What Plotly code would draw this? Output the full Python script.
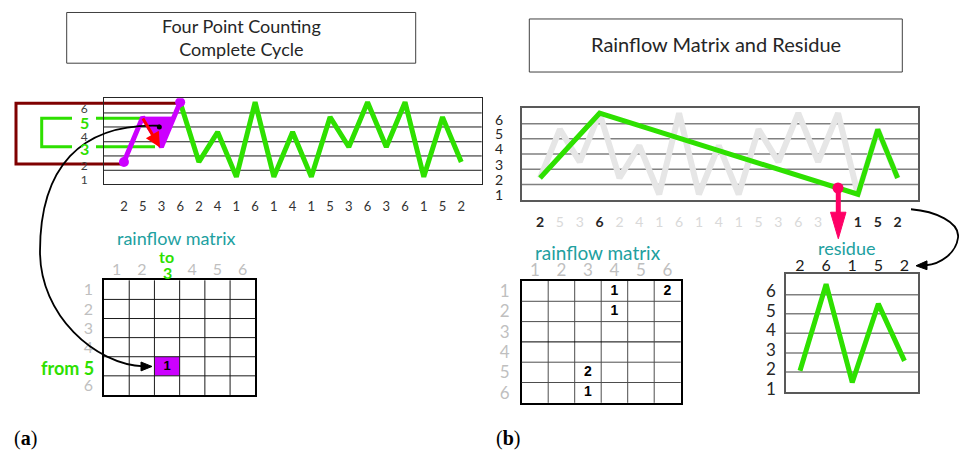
import plotly.graph_objects as go

# ---------------- data ----------------
signal = [2, 5, 3, 6, 2, 4, 1, 6, 1, 4, 1, 5, 3, 6, 3, 6, 1, 5, 2]
levels = [1, 2, 3, 4, 5, 6]
cycle_idx = [0, 1, 2, 3]            # four points used for counting
cycle_from, cycle_to, cycle_count = 5, 3, 1
residue_idx = [0, 3, 16, 17, 18]    # points left after counting
residue_labels = [2, 6, 1, 5, 2]
residue_values = [1.6, 6.0, 1.0, 5.0, 2.1]
cut_idx = 15                        # position of the pink marker
rf_from = [1, 1, 2, 5, 6]
rf_to = [4, 6, 4, 3, 3]
rf_count = [1, 2, 1, 2, 1]

# ---------------- styles ----------------
W, H = 959, 455
GREEN = '#2ee000'
PURPLE = '#cc00ff'
TEAL = '#21a0a0'
PINK = '#ff0066'
LGREY = '#bfbfbf'
FONT = 'Lato'

def dx(a, b):
    return [a / W, b / W]

def dy(top, bottom):
    return [1 - bottom / H, 1 - top / H]

fig = go.Figure()

# ---------- left chart (x2/y2) ----------
fig.add_trace(go.Scatter(x=list(range(len(signal)))[3:], y=signal[3:], mode='lines',
                         line=dict(color=GREEN, width=5), xaxis='x2', yaxis='y2'))
v1, v2, v3 = signal[cycle_idx[1]], signal[cycle_idx[2]], signal[cycle_idx[3]]
xc = cycle_idx[2] + (v1 - v2) / (v3 - v2)
fig.add_trace(go.Scatter(x=[cycle_idx[1], cycle_idx[2], xc, cycle_idx[1]], y=[v1, v2, v1, v1],
                         mode='lines', fill='toself', fillcolor=PURPLE,
                         line=dict(color=PURPLE, width=1), xaxis='x2', yaxis='y2'))
fig.add_trace(go.Scatter(x=cycle_idx, y=[signal[i] for i in cycle_idx], mode='lines',
                         line=dict(color=PURPLE, width=5), xaxis='x2', yaxis='y2'))
fig.add_trace(go.Scatter(x=[cycle_idx[0], cycle_idx[-1]], y=[signal[cycle_idx[0]], signal[cycle_idx[-1]]],
                         mode='markers', marker=dict(color=PURPLE, size=10), xaxis='x2', yaxis='y2'))
cx = (cycle_idx[1] + cycle_idx[2] + xc) / 3
cy = (v1 + v2 + v1) / 3
fig.add_trace(go.Scatter(x=[cx], y=[cy], mode='markers', marker=dict(color='black', size=5),
                         xaxis='x2', yaxis='y2'))

# ---------- right chart (x3/y3) ----------
fig.add_trace(go.Scatter(x=list(range(len(signal))), y=signal, mode='lines',
                         line=dict(color='#e6e6e6', width=6), xaxis='x3', yaxis='y3'))
fig.add_trace(go.Scatter(x=residue_idx, y=[signal[i] for i in residue_idx], mode='lines',
                         line=dict(color=GREEN, width=5), xaxis='x3', yaxis='y3'))
a, b = residue_idx[1], residue_idx[2]
cut_val = signal[a] + (signal[b] - signal[a]) * (cut_idx - a) / (b - a)
fig.add_trace(go.Scatter(x=[cut_idx], y=[cut_val], mode='markers',
                         marker=dict(color=PINK, size=11), xaxis='x3', yaxis='y3'))

# ---------- residue chart (x4/y4) ----------
fig.add_trace(go.Scatter(x=list(range(len(residue_values))), y=residue_values, mode='lines',
                         line=dict(color=GREEN, width=5), xaxis='x4', yaxis='y4'))

# ---------- matrices (x5/y5 left, x6/y6 right) ----------
fig.add_trace(go.Scatter(x=[cycle_to], y=[cycle_from], mode='text', text=[f'<b>{cycle_count}</b>'],
                         textfont=dict(family='Liberation Sans', size=13, color='black'),
                         xaxis='x5', yaxis='y5'))
fig.add_trace(go.Scatter(x=rf_to, y=rf_from, mode='text', text=[f'<b>{c}</b>' for c in rf_count],
                         textfont=dict(family='Liberation Sans', size=14, color='black'),
                         xaxis='x6', yaxis='y6'))

shapes = []
annos = []

for g in [1.44, 2.4, 3.35, 4.34, 5.28]:
    shapes.append(dict(type='line', xref='x2 domain', yref='y2', x0=0, x1=1, y0=g, y1=g,
                       line=dict(color='#1a1a1a', width=1), layer='below'))
for g in [1.606, 2.539, 3.485, 4.418, 5.345]:
    shapes.append(dict(type='line', xref='x3 domain', yref='y3', x0=0, x1=1, y0=g, y1=g,
                       line=dict(color='#808080', width=1.5), layer='below'))
for g in [1.53, 2.5, 3.5, 4.5, 5.465]:
    shapes.append(dict(type='line', xref='x4 domain', yref='y4', x0=0, x1=1, y0=g, y1=g,
                       line=dict(color='#808080', width=1.5), layer='below'))
shapes.append(dict(type='rect', xref='x5', yref='y5', x0=cycle_to - 0.5, x1=cycle_to + 0.5,
                   y0=cycle_from - 0.5, y1=cycle_from + 0.5, fillcolor=PURPLE,
                   line=dict(width=0), layer='below'))
for ax, col in [('5', '#1a1a1a'), ('6', '#4d4d4d')]:
    for k in range(1, 6):
        g = k + 0.5
        shapes.append(dict(type='line', xref=f'x{ax}', yref=f'y{ax} domain', x0=g, x1=g, y0=0, y1=1,
                           line=dict(color=col, width=1)))
        shapes.append(dict(type='line', xref=f'x{ax} domain', yref=f'y{ax}', x0=0, x1=1, y0=g, y1=g,
                           line=dict(color=col if not (ax == '6' and k == 3) else 'black', width=1)))

def px_line(path, color, width, layer='below'):
    shapes.append(dict(type='path', xref='x', yref='y', path=path,
                       line=dict(color=color, width=width), layer=layer))

shapes.append(dict(type='rect', xref='x', yref='y', x0=66.7, x1=415.7, y0=11.7, y1=63.3,
                   line=dict(color='#404040', width=1)))
shapes.append(dict(type='rect', xref='x', yref='y', x0=529.3, x1=902.3, y0=18.3, y1=72.3,
                   line=dict(color='#404040', width=1)))
annos.append(dict(x=241, y=37.5, xref='x', yref='y', text='Four Point Counting<br>Complete Cycle',
                  showarrow=False, font=dict(family=FONT, size=18, color='#262626')))
annos.append(dict(x=715.8, y=44, xref='x', yref='y', text='Rainflow Matrix and Residue',
                  showarrow=False, font=dict(family=FONT, size=20, color='#262626')))

px_line('M 180 104 L 16 104 L 16 166 L 124 166', '#7f0000', 3)
px_line('M 72 119.3 L 41.7 119.3 L 41.7 148.3 L 72 148.3', GREEN, 3)
px_line('M 96 119.3 L 140 119.3', GREEN, 3)
px_line('M 96 148.3 L 155 148.3', GREEN, 3)
annos.append(dict(x=84, y=124, xref='x', yref='y', text=f'<b>{cycle_from}</b>', showarrow=False,
                  font=dict(family=FONT, size=16, color=GREEN)))
annos.append(dict(x=84, y=150, xref='x', yref='y', text=f'<b>{cycle_to}</b>', showarrow=False,
                  font=dict(family=FONT, size=16, color=GREEN)))

annos.append(dict(x=160, y=149, ax=142, ay=118, xref='x', yref='y', axref='x', ayref='y', text='',
                  showarrow=True, arrowhead=2, arrowsize=1, arrowwidth=3, arrowcolor='#ff0000'))

px_line('M 160 127 C 80 124, 40 170, 40 255 C 40 320, 95 370, 144 372', 'black', 1.8, 'above')
shapes.append(dict(type='path', xref='x', yref='y', path='M 141 367.5 L 152 372 L 141 376.5 Z',
                   fillcolor='black', line=dict(color='black', width=1), layer='above'))
px_line('M 911 212 C 935 214, 960 225, 958 241 C 956 257, 940 268, 926 269', 'black', 1.8, 'above')
shapes.append(dict(type='path', xref='x', yref='y', path='M 927 264.5 L 916 269.5 L 927 273.5 Z',
                   fillcolor='black', line=dict(color='black', width=1), layer='above'))

px_line('M 838.3 192 L 838.3 218', PINK, 5, 'above')
shapes.append(dict(type='path', xref='x', yref='y', path='M 830.5 215 L 846 215 L 838.3 242 Z',
                   fillcolor=PINK, line=dict(color=PINK, width=1), layer='above'))

annos.append(dict(x=176, y=241.5, xref='x', yref='y', text='rainflow matrix', showarrow=False,
                  font=dict(family=FONT, size=18, color=TEAL)))
annos.append(dict(x=166, y=260, xref='x', yref='y', text='<b>to</b>', showarrow=False,
                  font=dict(family=FONT, size=16, color=GREEN)))
annos.append(dict(x=167.3, y=276.5, xref='x', yref='y', text=f'<b>{cycle_to}</b>', showarrow=False,
                  font=dict(family=FONT, size=16, color=GREEN)))
annos.append(dict(x=67.7, y=374, xref='x', yref='y', text=f'<b>from {cycle_from}</b>', showarrow=False,
                  font=dict(family=FONT, size=18, color=GREEN)))
annos.append(dict(x=597.5, y=256.5, xref='x', yref='y', text='rainflow matrix', showarrow=False,
                  font=dict(family=FONT, size=19, color=TEAL)))
annos.append(dict(x=846.7, y=251, xref='x', yref='y', text='residue', showarrow=False,
                  font=dict(family=FONT, size=18, color=TEAL)))

annos.append(dict(x=25, y=445, xref='x', yref='y', text='(<b>a</b>)', showarrow=False,
                  font=dict(family='Liberation Serif', size=20, color='black')))
annos.append(dict(x=508, y=445, xref='x', yref='y', text='(<b>b</b>)', showarrow=False,
                  font=dict(family='Liberation Serif', size=20, color='black')))

hidden = dict(visible=False, fixedrange=True)
left_ticktext = [('' if lv in (cycle_from, cycle_to) else str(lv)) for lv in levels]
right_ticktext = []
for i, v in enumerate(signal):
    if i in residue_idx:
        right_ticktext.append(f'<b><span style="color:#262626">{v}</span></b>')
    else:
        right_ticktext.append(f'<span style="color:#d9d9d9">{v}</span>')
mat_left_cols = [('' if lv == cycle_to else str(lv)) for lv in levels]
mat_left_rows = [('' if lv == cycle_from else str(lv)) for lv in levels]

fig.update_layout(
    width=W, height=H, margin=dict(l=0, r=0, t=0, b=0),
    paper_bgcolor='white', plot_bgcolor='rgba(0,0,0,0)', showlegend=False,
    xaxis=dict(domain=[0, 1], range=[0, W], **hidden),
    yaxis=dict(domain=[0, 1], range=[H, 0], **hidden),
    xaxis2=dict(domain=dx(104, 481.7), range=[-1.064, 19.09], anchor='y2',
                tickvals=list(range(len(signal))), ticktext=[str(v) for v in signal],
                ticks='outside', ticklen=10, tickcolor='rgba(0,0,0,0)',
                tickfont=dict(family=FONT, size=13, color='#333333'),
                showgrid=False, zeroline=False, showline=True, mirror=True,
                linecolor='#262626', linewidth=1, fixedrange=True),
    yaxis2=dict(domain=dy(99, 186.7), range=[0.493, 6.263], anchor='x2',
                tickvals=[0.78, 1.76, 3.02, 3.68, 4.67, 5.54], ticktext=left_ticktext,
                ticks='outside', ticklen=13, tickcolor='rgba(0,0,0,0)',
                tickfont=dict(family=FONT, size=12, color='#404040'),
                showgrid=False, zeroline=False, showline=True, mirror=True,
                linecolor='#262626', linewidth=1, fixedrange=True),
    xaxis3=dict(domain=dx(521.7, 918.3), range=[-0.921, 19.04], anchor='y3',
                tickvals=list(range(len(signal))), ticktext=right_ticktext,
                ticks='outside', ticklen=9, tickcolor='rgba(0,0,0,0)',
                tickfont=dict(family=FONT, size=14, color='#262626'),
                showgrid=False, zeroline=False, showline=True, mirror=True,
                linecolor='#595959', linewidth=1.5, fixedrange=True),
    yaxis3=dict(domain=dy(109.3, 202.3), range=[0.661, 6.297], anchor='x3',
                tickvals=[0.964, 1.873, 2.782, 3.788, 4.697, 5.586], ticktext=[str(v) for v in levels],
                ticks='outside', ticklen=14, tickcolor='rgba(0,0,0,0)',
                tickfont=dict(family=FONT, size=14, color='#262626'),
                showgrid=False, zeroline=False, showline=True, mirror=True,
                linecolor='#595959', linewidth=1.5, fixedrange=True),
    xaxis4=dict(domain=dx(786, 918.3), range=[-0.536, 4.53], anchor='y4', side='top',
                tickvals=list(range(len(residue_labels))), ticktext=[str(v) for v in residue_labels],
                ticks='', ticklabelstandoff=-5,
                tickfont=dict(family=FONT, size=16, color='#1a1a1a'),
                showgrid=False, zeroline=False, showline=True, mirror=True,
                linecolor='#595959', linewidth=1.5, fixedrange=True),
    yaxis4=dict(domain=dy(278.3, 397.7), range=[0.53, 6.5], anchor='x4',
                tickvals=[lv - 0.34 for lv in levels], ticktext=[str(v) for v in levels],
                ticks='outside', ticklen=5, tickcolor='rgba(0,0,0,0)',
                tickfont=dict(family=FONT, size=17, color='#262626'),
                showgrid=False, zeroline=False, showline=True, mirror=True,
                linecolor='#595959', linewidth=1.5, fixedrange=True),
    xaxis5=dict(domain=dx(104, 255.3), range=[0.5, 6.5], anchor='y5', side='top',
                tickvals=levels, ticktext=mat_left_cols, ticks='', ticklabelstandoff=-3,
                tickfont=dict(family=FONT, size=16, color=LGREY),
                showgrid=False, zeroline=False, showline=True, mirror=True,
                linecolor='black', linewidth=1.5, fixedrange=True),
    yaxis5=dict(domain=dy(284.3, 401), range=[6.5, 0.5], anchor='x5',
                tickvals=levels, ticktext=mat_left_rows,
                ticks='outside', ticklen=6, tickcolor='rgba(0,0,0,0)',
                tickfont=dict(family=FONT, size=16, color=LGREY),
                showgrid=False, zeroline=False, showline=True, mirror=True,
                linecolor='black', linewidth=1.5, fixedrange=True),
    xaxis6=dict(domain=dx(521.7, 680.7), range=[0.5, 6.5], anchor='y6', side='top',
                tickvals=levels, ticktext=[str(v) for v in levels], ticks='', ticklabelstandoff=-4,
                tickfont=dict(family=FONT, size=17, color=LGREY),
                showgrid=False, zeroline=False, showline=True, mirror=True,
                linecolor='black', linewidth=1.5, fixedrange=True),
    yaxis6=dict(domain=dy(285, 409), range=[6.5, 0.5], anchor='x6',
                tickvals=levels, ticktext=[str(v) for v in levels],
                ticks='outside', ticklen=7, tickcolor='rgba(0,0,0,0)',
                tickfont=dict(family=FONT, size=17, color=LGREY),
                showgrid=False, zeroline=False, showline=True, mirror=True,
                linecolor='black', linewidth=1.5, fixedrange=True),
    shapes=shapes, annotations=annos,
)

fig.write_html('out.html', config={'displayModeBar': False},
               post_script="document.body.style.margin='0';document.body.style.overflow='hidden';")
